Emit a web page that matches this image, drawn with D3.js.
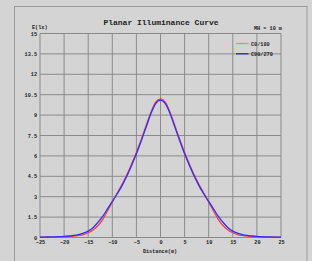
<!DOCTYPE html>
<html><head><meta charset="utf-8">
<script src="https://cdn.jsdelivr.net/npm/d3@7"></script>
<style>
html,body{margin:0;padding:0;background:#d4d4d4;}
svg{display:block;}
text{font-family:"Liberation Mono","DejaVu Sans Mono",monospace;fill:#222;}
</style></head>
<body>
<script>
const distances = d3.range(-25, 26, 1);
// C0/180 values for distance 0..25 (mirrored)
const c0Half = [10.2,9.95,9.2,8.2,7.2,6.25,5.4,4.6,3.9,3.25,2.6,1.95,1.32,0.86,0.55,0.35,0.22,0.15,0.1,0.07,0.05,0.04,0.03,0.02,0.02,0.01];
const c90Half = [10.1,9.85,9.1,8.1,7.1,6.15,5.3,4.5,3.8,3.2,2.65,2.1,1.55,1.1,0.72,0.47,0.32,0.22,0.15,0.11,0.08,0.06,0.05,0.04,0.03,0.02];
const c0Values = distances.map(d => c0Half[Math.abs(d)]);
const c90Values = distances.map(d => c90Half[Math.abs(d)]);
const xTicks = [-25,-20,-15,-10,-5,0,5,10,15,20,25];
const yTicks = [0,1.5,3,4.5,6,7.5,9,10.5,12,13.5,15];
const seriesNames = ["C0/180","C90/270"];
const seriesColors = ["#ff3a3a","#2f2fff"];

const W=312,H=261;
const svg=d3.select("body").append("svg").attr("width",W).attr("height",H);
svg.append("rect").attr("x",14.5).attr("y",6.5).attr("width",292.5).attr("height",270)
  .attr("fill","#d4d4d4").attr("stroke","#999").attr("stroke-width",1);

const x=d3.scaleLinear().domain([-25,25]).range([40,281]);
const y=d3.scaleLinear().domain([0,15]).range([237.5,33.5]);

const g=svg.append("g");
g.selectAll("line.v").data(xTicks).join("line").attr("class","v")
 .attr("x1",d=>x(d)).attr("x2",d=>x(d)).attr("y1",y(0)).attr("y2",y(15))
 .attr("stroke","#8a8a8a").attr("stroke-width",1);
g.selectAll("line.h").data(yTicks).join("line").attr("class","h")
 .attr("x1",x(-25)).attr("x2",x(25)).attr("y1",d=>y(d)).attr("y2",d=>y(d))
 .attr("stroke","#8a8a8a").attr("stroke-width",1);

const xAxis=d3.axisBottom(x).tickValues(xTicks).tickSize(0).tickPadding(3);
const ax=svg.append("g").attr("transform",`translate(0,${y(0)})`).call(xAxis);
ax.select(".domain").remove();
ax.selectAll("text").attr("font-size","5.2px").attr("font-weight","bold").attr("fill","#333")
  .attr("font-family","Liberation Mono, monospace");
const yAxis=d3.axisLeft(y).tickValues(yTicks).tickSize(0).tickPadding(3).tickFormat(d=>String(d));
const ay=svg.append("g").attr("transform",`translate(${x(-25)},0)`).call(yAxis);
ay.select(".domain").remove();
ay.selectAll("text").attr("font-size","5.2px").attr("font-weight","bold").attr("fill","#333")
  .attr("font-family","Liberation Mono, monospace");

svg.append("text").attr("x",32).attr("y",29).attr("font-size","5.2px").attr("font-weight","bold").attr("fill","#333").text("E(lx)");
svg.append("text").attr("x",161).attr("y",24.5).attr("text-anchor","middle").attr("font-size","8px").attr("font-weight","bold").text("Planar Illuminance Curve");
svg.append("text").attr("x",282).attr("y",29.5).attr("text-anchor","end").attr("font-size","5.2px").attr("font-weight","bold").attr("fill","#333").text("MH = 10 m");
svg.append("text").attr("x",160).attr("y",253).attr("text-anchor","middle").attr("font-size","5.2px").attr("font-weight","bold").attr("fill","#333").text("Distance(m)");

const line=d3.line().x(d=>x(d[0])).y(d=>y(d[1])).curve(d3.curveMonotoneX);
[c0Values,c90Values].forEach((vals,i)=>{
  svg.append("path").datum(distances.map((d,j)=>[d,vals[j]]))
    .attr("d",line).attr("fill","none").attr("stroke",seriesColors[i]).attr("stroke-width",1.3);
});

seriesNames.forEach((n,i)=>{
  const ly=43.5+i*10.3;
  svg.append("line").attr("x1",236).attr("x2",248.5).attr("y1",ly).attr("y2",ly)
    .attr("stroke",i===0?"#f08a8a":"#2020ee").attr("stroke-width",1.3);
  svg.append("text").attr("x",251).attr("y",ly+2).attr("font-size","5.2px").attr("font-weight","bold").attr("fill","#333").text(n);
});
</script>
</body></html>
